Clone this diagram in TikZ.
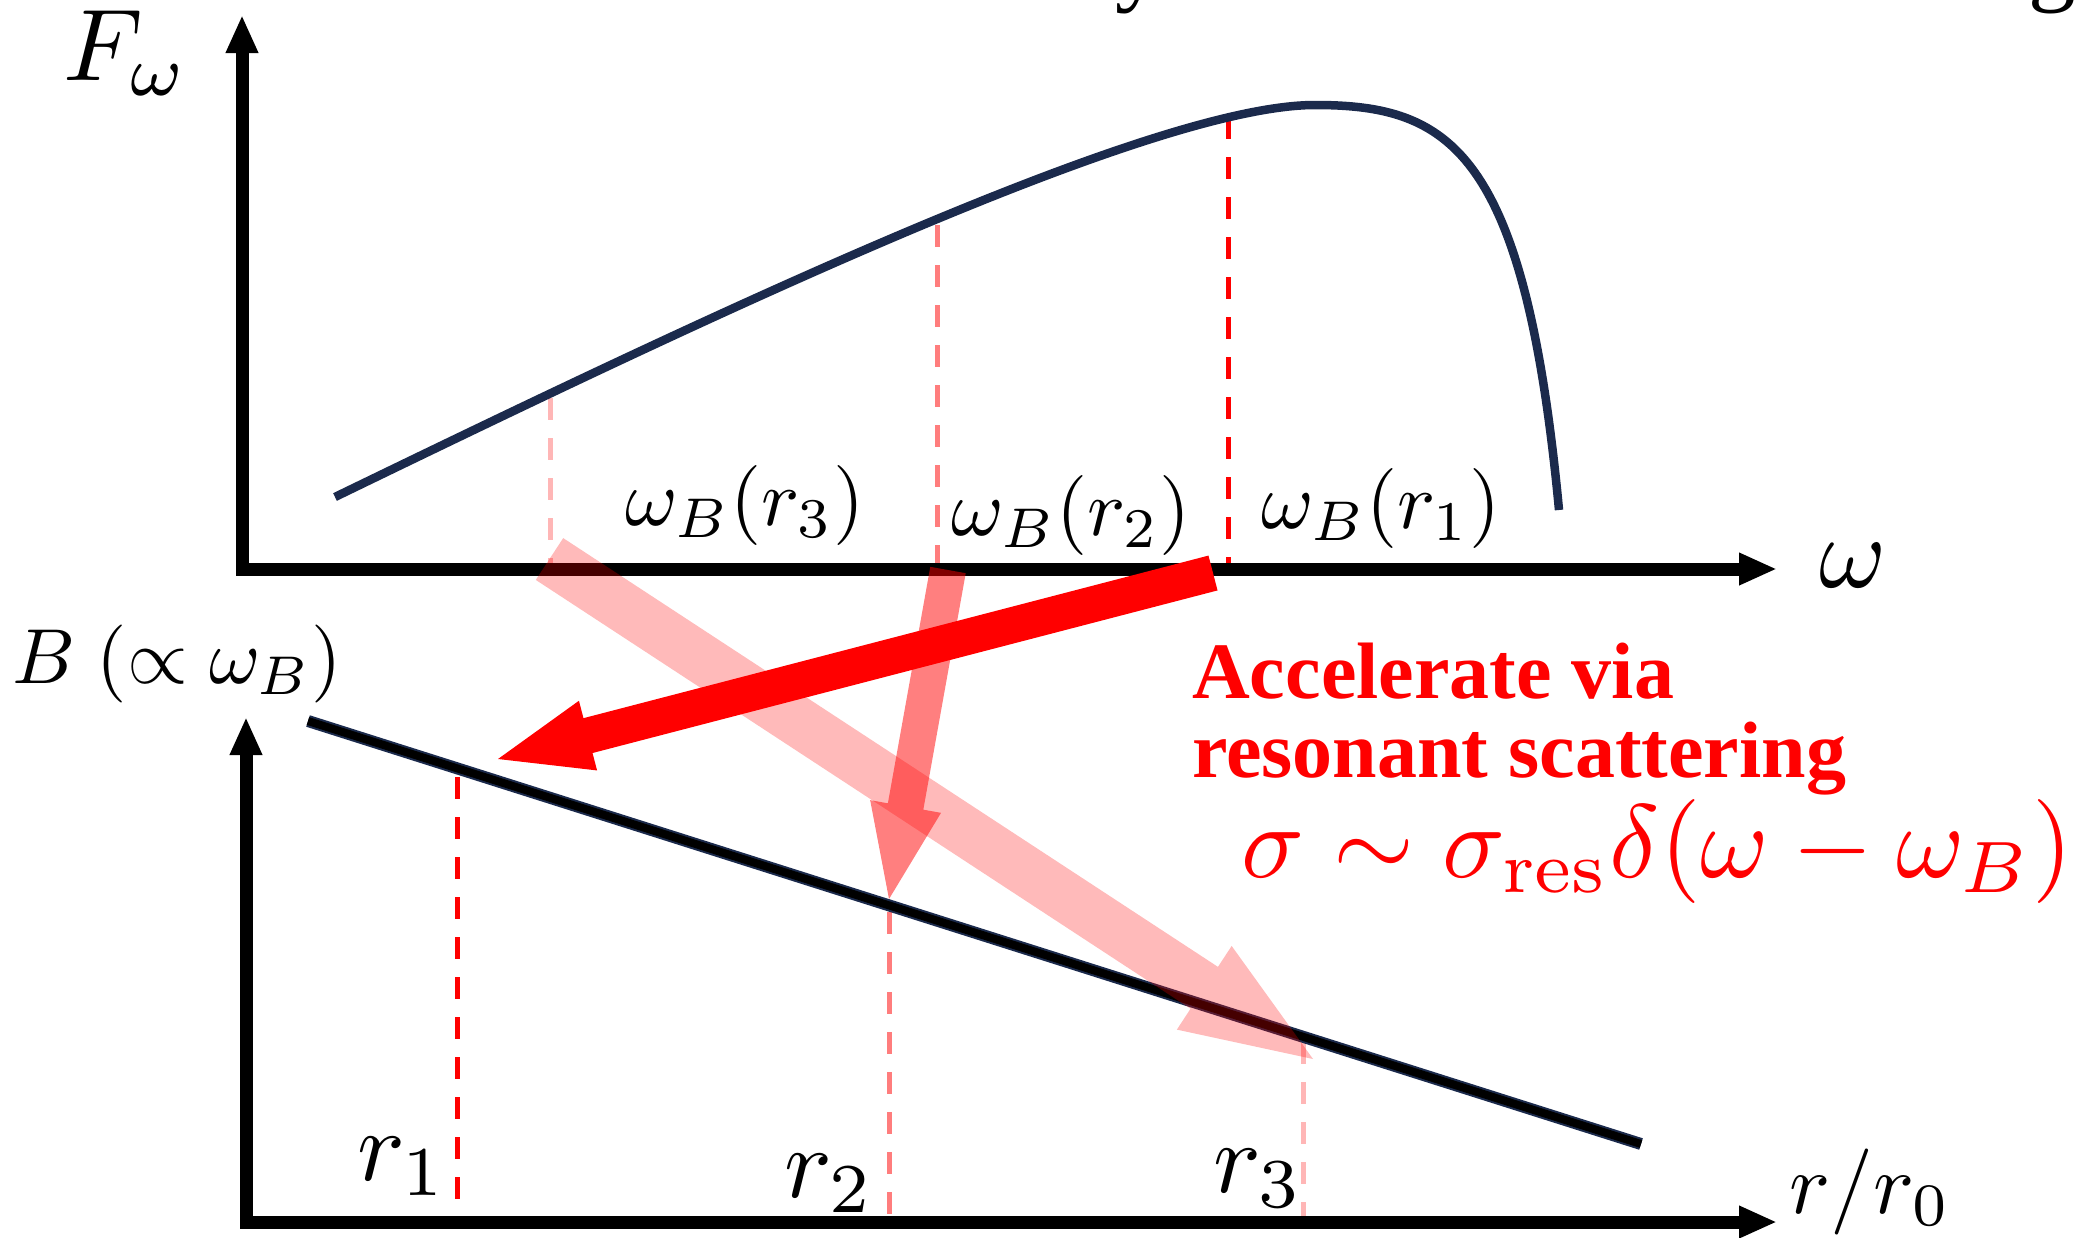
\documentclass[tikz,border=0pt]{standalone}
\usepackage{fontspec}
\newfontfamily\tnr{Liberation Serif}
\usetikzlibrary{arrows.meta,calc}
\newcommand\fsz[1]{\fontsize{#1}{#1}\selectfont}
\definecolor{navy}{RGB}{27,42,76}
\definecolor{pinkL}{RGB}{255,182,182}
\definecolor{pinkM}{RGB}{255,125,125}
% #1 style, #2 tail, #3 tip, #4 half shaft, #5 half head, #6 head length
\newcommand\fatarrow[6]{%
  \coordinate (hb) at ($(#3)!#6!(#2)$);
  \fill[#1] ($(#2)!#4!90:(#3)$) -- ($(hb)!#4!90:(#3)$) -- ($(hb)!#5!90:(#3)$)
    -- (#3) -- ($(hb)!#5!-90:(#3)$) -- ($(hb)!#4!-90:(#3)$) -- ($(#2)!#4!-90:(#3)$) -- cycle;}
\begin{document}
\begin{tikzpicture}[x=1pt,y=-1pt,
  axisline/.style={line width=13pt, line join=miter, >={Triangle[length=38pt,width=30pt]}, <->},
  curveline/.style={draw=navy, line width=8.5pt},
  dashline/.style={line width=5pt, dash pattern=on 22pt off 18pt},
  lbl/.style={inner sep=0pt, anchor=base, font=\fontsize{10}{12}\selectfont, scale=#1/10},
  redtxt/.style={inner sep=0pt, anchor=base west, text=red, font=\tnr\bfseries\fsz{80}}]
\useasboundingbox (0,0) rectangle (2082,1237);
% cut-off title fragments
\node[inner sep=0pt, anchor=base west, font=\tnr\fsz{95}] (tity) at (1115,-7) {y};
\node[inner sep=0pt, anchor=base west, font=\tnr\fsz{95}] (titg) at (2028,-7) {g};
% coordinates
\coordinate (o1) at (242,569);
\coordinate (ytop1) at (242,15);
\coordinate (xend1) at (1777,569);
\coordinate (o2) at (246,1222);
\coordinate (ytop2) at (246,717);
\coordinate (xend2) at (1777,1222);
% dashed guides (top)
\draw[dashline, pinkL] (550,398) -- (550,569);
\draw[dashline, pinkM] (937,225) -- (937,569);
\draw[dashline, red] (1228,117) -- (1228,569);
% dashed guides (bottom)
\draw[dashline, red] (457,777) -- (457,1212);
\draw[dashline, pinkM] (889,912) -- (889,1222);
\draw[dashline, pinkL] (1303,1042) -- (1303,1218);
% axes
\draw[axisline] (ytop1) -- (o1) -- (xend1);
\draw[axisline] (ytop2) -- (o2) -- (xend2);
% spectrum curve
\draw[curveline] (335,497) .. controls (700,320) and (1150,105) .. (1315,105)
  .. controls (1450,105) and (1525,150) .. (1559,510);
% B(r) line
\coordinate (bl1) at (308,721);
\coordinate (bl2) at (1641,1144);
\draw[navy, line width=12pt] (bl1) -- (bl2);
\draw[black, line width=8pt] (bl1) -- (bl2);
% labels
\node[lbl=102] (fw) at (126,80) {$F_\omega$};
\node[lbl=102] (om) at (1853,587) {$\omega$};
\node[lbl=80] (wb3) at (745,525) {$\omega_B(r_3)$};
\node[lbl=80] (wb2) at (1071,535) {$\omega_B(r_2)$};
\node[lbl=80] (wb1) at (1381,528) {$\omega_B(r_1)$};
\node[lbl=78] (bax) at (177,683) {$B\;(\propto\omega_B)$};
\node[lbl=100] (r1) at (402,1180) {$r_1$};
\node[lbl=100] (r2) at (829,1197) {$r_2$};
\node[lbl=100] (r3) at (1258,1192) {$r_3$};
\node[lbl=86] (rr0) at (1870,1213) {$r/r_0$};
% red text
\node[redtxt] (acc) at (1192,698) {Accelerate via};
\node[redtxt] (res) at (1192,777) {resonant scattering};
\node[lbl=104, text=red] (sig) at (1657,877) {$\sigma\sim\sigma_{\mathrm{res}}\delta(\omega-\omega_B)$};
% arrows
\coordinate (ltail) at (549.5,559);
\coordinate (ltip) at (1313,1059);
\coordinate (mtail) at (948,570);
\coordinate (mtip) at (889,899);
\coordinate (rtail) at (1213,573);
\coordinate (rtip) at (498,759);
\fatarrow{red, opacity=0.27}{ltail}{ltip}{25pt}{50pt}{130pt}
\fatarrow{red, opacity=0.5}{mtail}{mtip}{18pt}{36pt}{94pt}
\fatarrow{red}{rtail}{rtip}{18pt}{36pt}{93pt}
\end{tikzpicture}
\end{document}
